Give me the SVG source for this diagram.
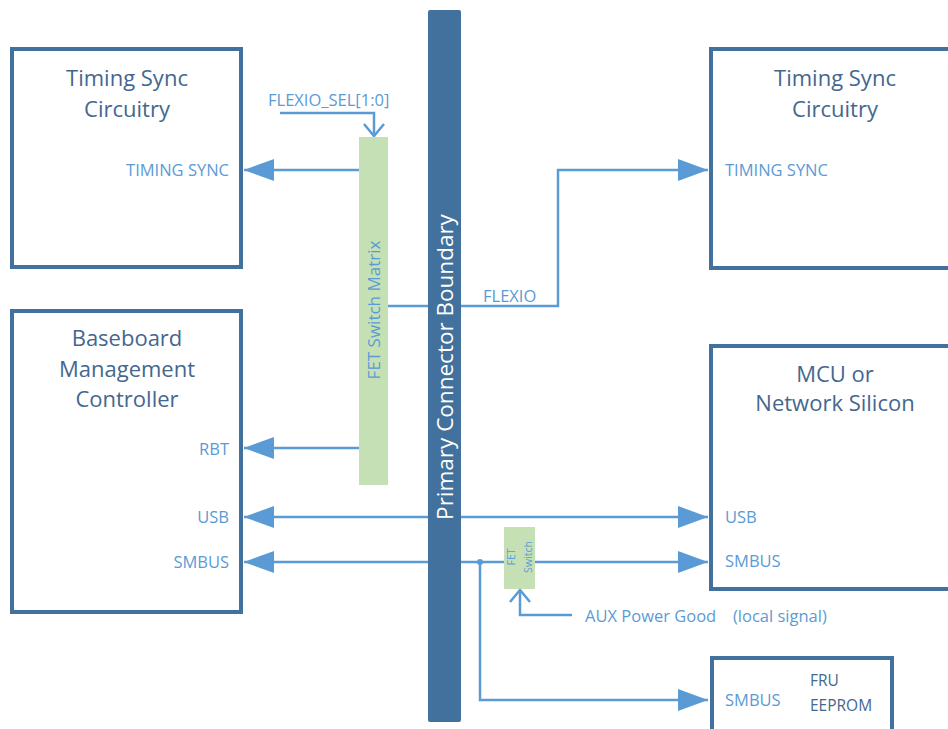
<svg xmlns="http://www.w3.org/2000/svg" width="948" height="729" viewBox="0 0 948 729">
<style>
text{font-family:"Open Sans",Lato,sans-serif}
.box{fill:#fff;stroke:#41719c;stroke-width:4}
.title{font-size:22px;fill:#44678f;text-anchor:middle}
.lbl{font-size:16.5px;fill:#5b9bd5}
.r{text-anchor:end}
.ln{fill:none;stroke:#5b9bd5;stroke-width:2.5}
.fet{fill:#c5e0b4}
</style>
<defs>
<marker id="tri" viewBox="0 0 30 22" refX="30" refY="11" markerWidth="30" markerHeight="22" markerUnits="userSpaceOnUse" orient="auto-start-reverse">
<path d="M0,0 L30,11 L0,22 Z" fill="#5b9bd5"/>
</marker>
<marker id="chev" viewBox="0 0 16 24" refX="14" refY="12" markerWidth="16" markerHeight="24" markerUnits="userSpaceOnUse" orient="auto">
<path d="M2,2 L14,12 L2,22" fill="none" stroke="#5b9bd5" stroke-width="2.5"/>
</marker>
</defs>

<g id="connectors">
<path class="ln" d="M280,113 H374 V136" marker-end="url(#chev)"/>
<path class="ln" d="M359,170 H244" marker-end="url(#tri)"/>
<path class="ln" d="M359,448 H244" marker-end="url(#tri)"/>
<path class="ln" d="M388,306 H558 V170 H708" marker-end="url(#tri)"/>
<path class="ln" d="M244,517 H708" marker-start="url(#tri)" marker-end="url(#tri)"/>
<path class="ln" d="M244,562 H708" marker-start="url(#tri)" marker-end="url(#tri)"/>
<path class="ln" d="M480,562 V700 H708" marker-end="url(#tri)"/>
<circle cx="480" cy="562" r="3" fill="#5b9bd5"/>
<path class="ln" d="M572,615 H520 V590" marker-end="url(#chev)"/>
</g>

<g id="boundary">
<rect x="428" y="10" width="33" height="712" rx="2" fill="#41719c"/>
<text transform="translate(453,367) rotate(-90)" font-size="22.5" fill="#fff" text-anchor="middle">Primary Connector Boundary</text>
</g>

<g id="fet-matrix">
<rect class="fet" x="359" y="137" width="29" height="348"/>
<text transform="translate(380,310) rotate(-90)" font-size="17" fill="#5b9bd5" text-anchor="middle">FET Switch Matrix</text>
</g>

<g id="fet-switch">
<rect class="fet" x="504" y="527" width="31" height="62"/>
<text transform="translate(515,557) rotate(-90)" font-size="10.5" fill="#5b9bd5" text-anchor="middle">FET</text>
<text transform="translate(532,557) rotate(-90)" font-size="10.5" fill="#5b9bd5" text-anchor="middle">Switch</text>
</g>

<g id="timing-left">
<rect class="box" x="12" y="49" width="229" height="218"/>
<text class="title" x="127" y="86">Timing Sync</text>
<text class="title" x="127" y="117">Circuitry</text>
<text class="lbl r" x="229" y="176">TIMING SYNC</text>
</g>

<g id="bmc">
<rect class="box" x="12" y="311" width="229" height="301"/>
<text class="title" x="127" y="346">Baseboard</text>
<text class="title" x="127" y="377">Management</text>
<text class="title" x="127" y="407">Controller</text>
<text class="lbl r" x="229" y="455">RBT</text>
<text class="lbl r" x="229" y="523">USB</text>
<text class="lbl r" x="229" y="568">SMBUS</text>
</g>

<g id="timing-right">
<rect class="box" x="711" y="49" width="250" height="219"/>
<text class="title" x="835" y="86">Timing Sync</text>
<text class="title" x="835" y="117">Circuitry</text>
<text class="lbl" x="725" y="176">TIMING SYNC</text>
</g>

<g id="mcu">
<rect class="box" x="711" y="346" width="250" height="243"/>
<text class="title" x="835" y="382">MCU or</text>
<text class="title" x="835" y="411">Network Silicon</text>
<text class="lbl" x="725" y="523">USB</text>
<text class="lbl" x="725" y="567">SMBUS</text>
</g>

<g id="fru">
<rect class="box" x="712" y="658" width="180" height="90"/>
<text class="lbl" x="725" y="706">SMBUS</text>
<text font-size="15.5" fill="#44678f" x="810" y="686">FRU</text>
<text font-size="15.5" fill="#44678f" x="810" y="711">EEPROM</text>
</g>

<g id="labels">
<text class="lbl" x="268" y="106">FLEXIO_SEL[1:0]</text>
<text class="lbl" x="483" y="302">FLEXIO</text>
<text class="lbl" x="585" y="622">AUX Power Good</text>
<text class="lbl" x="733" y="622">(local signal)</text>
</g>
</svg>
